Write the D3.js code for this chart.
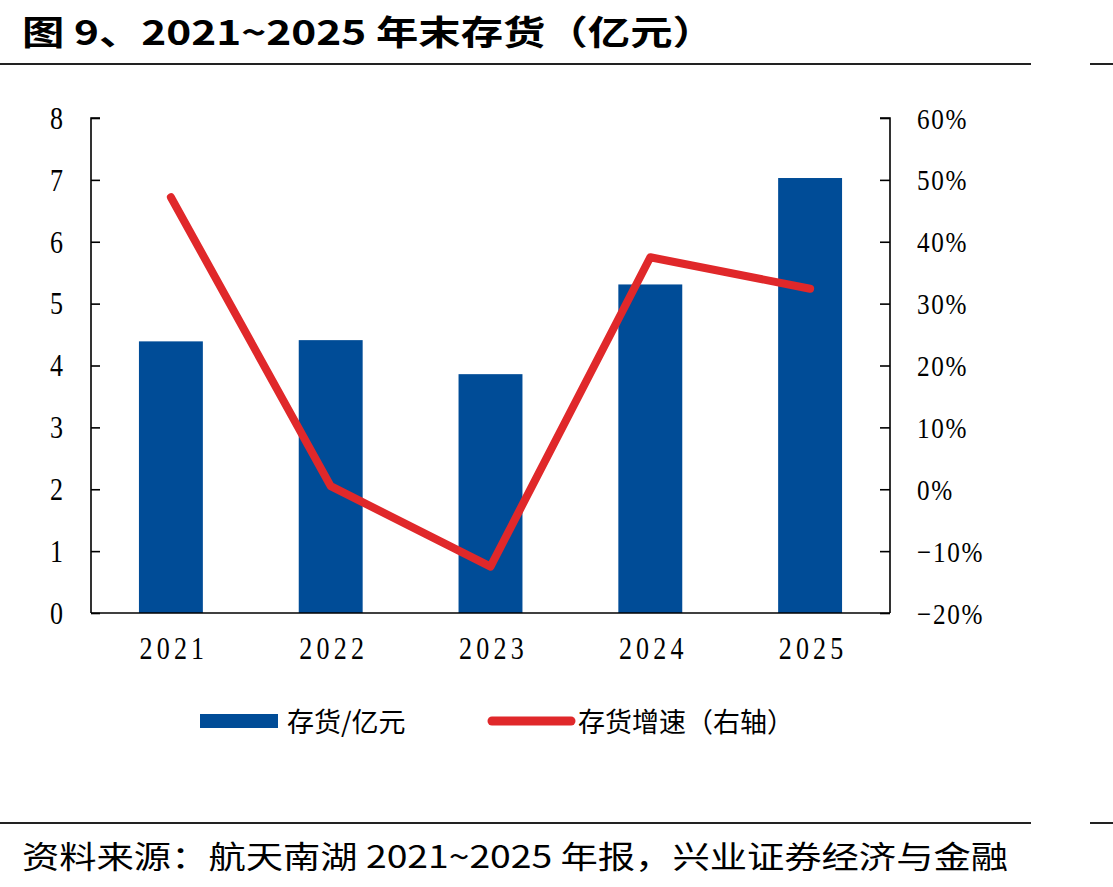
<!DOCTYPE html>
<html>
<head>
<meta charset="utf-8">
<script src="https://cdn.jsdelivr.net/npm/d3@7"></script>
<style>
  body { margin: 0; background: #fff; }
  svg { display: block; }
</style>
</head>
<body>
<svg id="chart"></svg>
<script>
  // Data
  const years = ["2021", "2022", "2023", "2024", "2025"];
  const inventory = [4.39, 4.41, 3.86, 5.31, 7.03];   // 亿元
  const growth = [0.472, 0.005, -0.125, 0.375, 0.324]; // right axis
  const leftTicks = [0, 1, 2, 3, 4, 5, 6, 7, 8];
  const rightTicks = [-0.2, -0.1, 0, 0.1, 0.2, 0.3, 0.4, 0.5, 0.6];

  const width = 1113, height = 887;
  const plot = { left: 91, right: 890, top: 118, bottom: 613 };
  const blue = "#004c97", red = "#e0282a";
  const cjk = "'Noto Sans CJK SC', 'Liberation Sans', sans-serif";
  const serif = "'Liberation Serif', 'DejaVu Serif', serif";
  const squeeze = 0.84; // tick labels in the reference are a narrow serif

  const svg = d3.select("#chart").attr("width", width).attr("height", height);

  // Header
  svg.append("text")
    .attr("x", 22).attr("y", 45)
    .attr("textLength", 693).attr("lengthAdjust", "spacingAndGlyphs")
    .style("font-family", cjk).style("font-weight", "bold").style("font-size", "34px")
    .text("图 9、2021~2025 年末存货（亿元）");

  svg.append("line").attr("x1", 0).attr("x2", 1031).attr("y1", 64).attr("y2", 64)
    .attr("stroke", "#222").attr("stroke-width", 2);
  svg.append("line").attr("x1", 1090).attr("x2", 1113).attr("y1", 64).attr("y2", 64)
    .attr("stroke", "#222").attr("stroke-width", 2);

  // Footer
  svg.append("line").attr("x1", 0).attr("x2", 1031).attr("y1", 823).attr("y2", 823)
    .attr("stroke", "#222").attr("stroke-width", 2);
  svg.append("line").attr("x1", 1090).attr("x2", 1113).attr("y1", 823).attr("y2", 823)
    .attr("stroke", "#222").attr("stroke-width", 2);
  svg.append("text")
    .attr("x", 22).attr("y", 868)
    .attr("textLength", 986).attr("lengthAdjust", "spacingAndGlyphs")
    .style("font-family", cjk).style("font-size", "31px")
    .text("资料来源：航天南湖 2021~2025 年报，兴业证券经济与金融");

  // Scales
  const x = d3.scaleBand().domain(years).range([plot.left, plot.right]).paddingInner(0.6).paddingOuter(0.3);
  const yL = d3.scaleLinear().domain([0, 8]).range([plot.bottom, plot.top]);
  const yR = d3.scaleLinear().domain([-0.2, 0.6]).range([plot.bottom, plot.top]);

  // Bars
  svg.append("g").selectAll("rect")
    .data(inventory)
    .join("rect")
    .attr("x", (d, i) => x(years[i]))
    .attr("y", d => yL(d))
    .attr("width", x.bandwidth())
    .attr("height", d => yL(0) - yL(d))
    .attr("fill", blue);

  // Axes
  const leftAxis = svg.append("g")
    .attr("transform", `translate(${plot.left},0)`)
    .call(d3.axisRight(yL).tickValues(leftTicks).tickSize(9).tickFormat(""));
  leftAxis.select(".domain").attr("d", `M9,${plot.top}H0V${plot.bottom}`);

  const rightAxis = svg.append("g")
    .attr("transform", `translate(${plot.right},0)`)
    .call(d3.axisLeft(yR).tickValues(rightTicks).tickSize(10).tickFormat(""));
  rightAxis.select(".domain").attr("d", `M-10,${plot.top}H0V${plot.bottom}`);

  svg.selectAll(".tick line, .domain").attr("stroke", "#000").attr("stroke-width", 1.6);

  svg.append("line")
    .attr("x1", plot.left).attr("x2", plot.right)
    .attr("y1", plot.bottom).attr("y2", plot.bottom)
    .attr("stroke", "#000").attr("stroke-width", 1.6);

  // Tick labels
  svg.append("g").selectAll("text")
    .data(leftTicks)
    .join("text")
    .attr("transform", d => `translate(63,${yL(d)}) scale(${squeeze},1)`)
    .attr("dy", "0.35em")
    .attr("text-anchor", "end")
    .style("font-family", serif).style("font-size", "31px")
    .text(d => d);

  svg.append("g").selectAll("text")
    .data(rightTicks)
    .join("text")
    .attr("transform", d => `translate(917,${yR(d)}) scale(${squeeze},1)`)
    .attr("dy", "0.35em")
    .style("font-family", serif).style("font-size", "30px")
    .style("letter-spacing", "2px")
    .text(d => (d < 0 ? "\u2212" : "") + Math.round(Math.abs(d) * 100) + "%");

  svg.append("g").selectAll("text")
    .data(years)
    .join("text")
    .attr("transform", d => `translate(${x(d) + x.bandwidth() / 2 + 3},659) scale(${squeeze},1)`)
    .attr("text-anchor", "middle")
    .style("font-family", serif).style("font-size", "31px")
    .style("letter-spacing", "5px")
    .text(d => d);

  // Growth line
  const line = d3.line()
    .x((d, i) => x(years[i]) + x.bandwidth() / 2)
    .y(d => yR(d));

  svg.append("path")
    .datum(growth)
    .attr("d", line)
    .attr("fill", "none")
    .attr("stroke", red)
    .attr("stroke-width", 8)
    .attr("stroke-linecap", "round")
    .attr("stroke-linejoin", "round");

  // Legend
  const legend = svg.append("g");
  legend.append("rect").attr("x", 200).attr("y", 714).attr("width", 78).attr("height", 14).attr("fill", blue);
  legend.append("text").attr("x", 287).attr("y", 732)
    .style("font-family", cjk).style("font-size", "27px")
    .text("存货/亿元");
  legend.append("line").attr("x1", 492).attr("x2", 571).attr("y1", 721).attr("y2", 721)
    .attr("stroke", red).attr("stroke-width", 9).attr("stroke-linecap", "round");
  legend.append("text").attr("x", 578).attr("y", 732)
    .style("font-family", cjk).style("font-size", "27px")
    .text("存货增速（右轴）");
</script>
</body>
</html>
